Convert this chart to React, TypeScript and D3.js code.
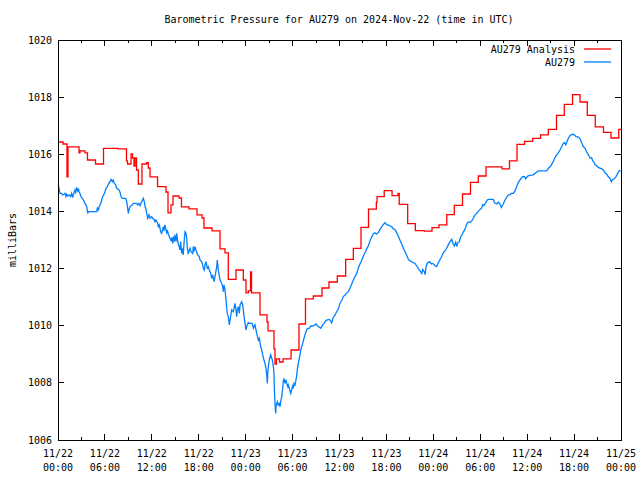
import * as React from 'react'
import * as d3 from 'd3'

const WIDTH = 640
const HEIGHT = 480
const margin = { top: 40, right: 19, bottom: 40, left: 58 }

const title = 'Barometric Pressure for AU279 on 2024-Nov-22 (time in UTC)'
const yLabel = 'milliBars'
const yTicks = [1006, 1008, 1010, 1012, 1014, 1016, 1018, 1020]
const xTickHours = [0, 6, 12, 18, 24, 30, 36, 42, 48, 54, 60, 66, 72]
const xTickDates = ['11/22', '11/22', '11/22', '11/22', '11/23', '11/23', '11/23', '11/23', '11/24', '11/24', '11/24', '11/24', '11/25']
const xTickTimes = ['00:00', '06:00', '12:00', '18:00', '00:00', '06:00', '12:00', '18:00', '00:00', '06:00', '12:00', '18:00', '00:00']

// hours since 11/22 00:00 UTC, pressure in mb (step changes of the analysis)
const analysis: [number, number][] = [
  [0, 1016.43], [0.64, 1016.36], [1.15, 1015.21], [1.28, 1016.26], [2.69, 1016.05], [2.81, 1016.12],
  [3.45, 1016.05], [3.77, 1015.8], [4.8, 1015.66], [5.82, 1016.21], [7.67, 1016.19], [8.76, 1015.77],
  [8.89, 1015.66], [9.34, 1016.01], [9.53, 1015.87], [9.72, 1015.59], [9.85, 1015.87], [10.04, 1015.45],
  [10.27, 1014.96], [10.74, 1015.66], [11.34, 1015.71], [11.55, 1015.52], [11.77, 1015.21], [12.73, 1014.87],
  [13.81, 1014.68], [14.07, 1013.95], [14.45, 1014.23], [14.71, 1014.54], [15.47, 1014.47], [15.79, 1014.16],
  [16.75, 1014.09], [17.78, 1013.88], [18.42, 1013.77], [18.67, 1013.42], [19.7, 1013.32], [20.72, 1012.69],
  [21.36, 1012.55], [21.78, 1011.62], [22.76, 1011.95], [23.7, 1011.6], [24.04, 1011.15], [24.34, 1011.22],
  [24.62, 1011.88], [24.75, 1011.15], [25.83, 1010.38], [26.73, 1010.13], [26.86, 1009.82], [27.62, 1009.19],
  [27.75, 1008.66], [27.94, 1008.84], [28.33, 1008.73], [28.78, 1008.84], [29.8, 1009.15], [30.82, 1010.06],
  [31.65, 1010.94], [32.65, 1011.04], [33.76, 1011.32], [34.66, 1011.53], [35.72, 1011.74], [36.79, 1012.32],
  [37.77, 1012.71], [38.75, 1013.44], [39.71, 1014.08], [40.71, 1014.32], [40.8, 1014.52], [41.72, 1014.73],
  [42.72, 1014.55], [43.48, 1014.63], [43.64, 1014.25], [44.72, 1013.57], [45.7, 1013.33], [46.85, 1013.31],
  [47.83, 1013.43], [48.73, 1013.53], [49.72, 1013.89], [50.68, 1014.21], [51.73, 1014.61], [52.75, 1015.02],
  [53.75, 1015.24], [54.74, 1015.56], [56.78, 1015.49], [57.74, 1015.77], [58.7, 1016.35], [59.66, 1016.45],
  [60.71, 1016.56], [61.71, 1016.68], [62.7, 1016.87], [63.75, 1017.36], [64.75, 1017.75], [65.8, 1018.09],
  [66.76, 1017.83], [67.69, 1017.36], [68.71, 1016.96], [69.76, 1016.77], [70.72, 1016.57], [71.71, 1016.87],
  [72, 1016.87],
]

// station observations
const station: [number, number][] = [
  [0.04, 1014.93], [0.13, 1014.81], [0.26, 1014.63], [0.47, 1014.63], [0.55, 1014.58], [0.81, 1014.6],
  [0.9, 1014.63], [1.02, 1014.52], [1.11, 1014.6], [1.24, 1014.54], [1.41, 1014.58], [1.62, 1014.52],
  [1.75, 1014.63], [1.88, 1014.48], [1.96, 1014.58], [2.08, 1014.67], [2.17, 1014.75], [2.26, 1014.67],
  [2.39, 1014.81], [2.52, 1014.72], [2.6, 1014.81], [2.69, 1014.69], [2.81, 1014.63], [2.94, 1014.52],
  [3.11, 1014.46], [3.24, 1014.4], [3.36, 1014.34], [3.45, 1014.28], [3.67, 1014.17], [3.8, 1013.93],
  [3.88, 1013.99], [4.95, 1013.99], [5.03, 1014.11], [5.15, 1014.05], [5.28, 1014.17], [5.46, 1014.28],
  [5.59, 1014.4], [5.72, 1014.52], [5.88, 1014.6], [6.01, 1014.69], [6.14, 1014.81], [6.31, 1014.87],
  [6.43, 1014.95], [6.65, 1015.04], [6.78, 1015.12], [6.94, 1015.04], [7.07, 1015.1], [7.2, 1014.98],
  [7.38, 1014.93], [7.51, 1014.81], [7.8, 1014.75], [7.93, 1014.67], [8.06, 1014.52], [8.22, 1014.46],
  [8.66, 1014.46], [8.79, 1014.34], [8.91, 1014.11], [8.99, 1013.93], [9.08, 1014.05], [9.21, 1014.17],
  [9.5, 1014.23], [9.63, 1014.28], [10.06, 1014.28], [10.19, 1014.23], [10.36, 1014.28], [10.49, 1014.2],
  [10.61, 1014.28], [10.91, 1014.46], [11.04, 1014.34], [11.13, 1014.17], [11.22, 1014.11], [11.34, 1013.93],
  [11.47, 1013.76], [11.64, 1013.88], [11.77, 1013.76], [11.98, 1013.82], [12.11, 1013.76], [12.28, 1013.72],
  [12.41, 1013.64], [12.53, 1013.7], [12.7, 1013.61], [12.83, 1013.47], [12.96, 1013.53], [13.13, 1013.29],
  [13.26, 1013.23], [13.39, 1013.37], [13.47, 1013.47], [13.56, 1013.33], [13.68, 1013.53], [13.81, 1013.35],
  [13.9, 1013.26], [13.98, 1013.35], [14.11, 1013.21], [14.23, 1013.12], [14.41, 1013.0], [14.54, 1013.06],
  [14.67, 1012.88], [14.75, 1013.12], [14.84, 1012.94], [14.96, 1013.18], [15.09, 1012.94], [15.18, 1013.23],
  [15.26, 1013.06], [15.39, 1012.83], [15.51, 1012.77], [15.6, 1012.65], [15.69, 1012.94], [15.82, 1012.53],
  [15.95, 1012.71], [16.02, 1012.48], [16.11, 1012.88], [16.24, 1013.29], [16.37, 1013.23], [16.46, 1013.06],
  [16.54, 1012.71], [16.66, 1012.51], [16.79, 1012.65], [16.88, 1012.71], [17.01, 1012.59], [17.23, 1012.53],
  [17.3, 1012.77], [17.39, 1012.59], [17.52, 1012.77], [17.74, 1012.56], [17.86, 1012.48], [18.07, 1012.42],
  [18.16, 1012.3], [18.38, 1012.24], [18.51, 1012.13], [18.58, 1012.01], [18.71, 1011.95], [18.8, 1012.13],
  [18.93, 1012.24], [19.09, 1012.01], [19.22, 1012.07], [19.35, 1011.95], [19.53, 1011.83], [19.66, 1011.66],
  [19.78, 1011.78], [19.95, 1011.54], [20.08, 1011.72], [20.3, 1012.07], [20.37, 1012.3], [20.5, 1011.95],
  [20.72, 1011.6], [20.94, 1011.48], [21.06, 1011.37], [21.14, 1011.19], [21.23, 1011.43], [21.36, 1011.25],
  [21.49, 1010.9], [21.58, 1010.61], [21.65, 1010.43], [21.78, 1010.32], [21.91, 1010.03], [22.0, 1010.2],
  [22.21, 1010.55], [22.42, 1010.49], [22.64, 1010.78], [22.76, 1010.55], [22.85, 1010.32], [22.93, 1010.55],
  [23.06, 1010.67], [23.19, 1010.43], [23.28, 1010.73], [23.49, 1010.84], [23.62, 1010.73], [23.7, 1010.55],
  [23.79, 1010.32], [23.92, 1010.08], [24.04, 1009.85], [24.13, 1009.97], [24.34, 1010.11], [24.47, 1010.08],
  [24.85, 1010.08], [24.98, 1009.91], [25.19, 1010.03], [25.41, 1009.73], [25.62, 1009.5], [25.74, 1009.56],
  [25.92, 1009.27], [26.05, 1009.15], [26.18, 1008.98], [26.34, 1008.8], [26.47, 1008.68], [26.6, 1008.51],
  [26.69, 1008.28], [26.77, 1007.98], [26.82, 1008.33], [26.9, 1008.57], [27.02, 1008.8], [27.2, 1008.98],
  [27.41, 1008.8], [27.54, 1008.57], [27.62, 1008.33], [27.66, 1007.87], [27.75, 1007.28], [27.84, 1006.93],
  [27.88, 1007.17], [27.97, 1007.28], [28.04, 1007.34], [28.17, 1007.22], [28.3, 1007.28], [28.39, 1007.17],
  [28.48, 1007.34], [28.61, 1007.52], [28.74, 1007.81], [28.81, 1008.04], [28.9, 1008.16], [29.03, 1007.98],
  [29.16, 1008.1], [29.25, 1007.98], [29.38, 1007.87], [29.45, 1007.93], [29.58, 1007.81], [29.76, 1007.63],
  [29.89, 1007.75], [30.02, 1007.93], [30.09, 1007.81], [30.18, 1007.98], [30.31, 1007.93], [30.44, 1008.1],
  [30.53, 1008.28], [30.6, 1008.45], [30.73, 1008.68], [30.86, 1008.86], [30.95, 1008.98], [31.04, 1009.15],
  [31.17, 1009.27], [31.29, 1009.38], [31.46, 1009.56], [31.59, 1009.68], [31.72, 1009.79], [31.88, 1009.91],
  [32.14, 1009.91], [32.32, 1009.99], [32.57, 1009.99], [32.87, 1010.03], [33.0, 1010.06], [33.29, 1009.97],
  [33.6, 1009.91], [33.85, 1010.03], [34.02, 1010.08], [34.27, 1010.18], [34.57, 1010.22], [34.79, 1010.2],
  [35.0, 1010.1], [35.17, 1010.27], [35.43, 1010.38], [35.64, 1010.49], [35.85, 1010.59], [36.06, 1010.78],
  [36.28, 1010.88], [36.49, 1011.02], [36.7, 1011.08], [37.13, 1011.19], [37.34, 1011.31], [37.56, 1011.46],
  [37.77, 1011.6], [37.98, 1011.72], [38.2, 1011.83], [38.41, 1012.02], [38.62, 1012.16], [38.84, 1012.28],
  [39.04, 1012.44], [39.26, 1012.56], [39.48, 1012.69], [39.68, 1012.79], [39.9, 1012.97], [40.12, 1013.11],
  [40.32, 1013.21], [40.54, 1013.25], [40.76, 1013.21], [40.96, 1013.26], [41.18, 1013.37], [41.4, 1013.47],
  [41.6, 1013.54], [41.82, 1013.61], [42.04, 1013.53], [42.24, 1013.53], [42.46, 1013.49], [42.68, 1013.47],
  [42.88, 1013.39], [43.1, 1013.37], [43.32, 1013.25], [43.52, 1013.13], [43.74, 1012.99], [43.96, 1012.86],
  [44.16, 1012.71], [44.38, 1012.59], [44.6, 1012.46], [44.8, 1012.33], [45.02, 1012.27], [45.24, 1012.24],
  [45.44, 1012.21], [45.66, 1012.18], [45.88, 1012.09], [46.08, 1012.0], [46.3, 1011.93], [46.52, 1011.83],
  [46.64, 1011.97], [46.85, 1011.88], [46.94, 1011.79], [47.06, 1012.04], [47.23, 1012.19], [47.49, 1012.24],
  [47.77, 1012.16], [47.96, 1012.18], [48.22, 1012.09], [48.41, 1012.07], [48.64, 1012.21], [48.85, 1012.31],
  [49.07, 1012.42], [49.28, 1012.55], [49.49, 1012.63], [49.71, 1012.71], [49.91, 1012.83], [50.13, 1012.94],
  [50.35, 1013.02], [50.55, 1012.86], [50.68, 1012.79], [50.86, 1012.92], [50.99, 1012.77], [51.12, 1012.9],
  [51.32, 1012.94], [51.5, 1013.11], [51.71, 1013.21], [51.92, 1013.32], [52.14, 1013.44], [52.27, 1013.56],
  [52.47, 1013.63], [52.69, 1013.61], [52.91, 1013.67], [53.11, 1013.76], [53.33, 1013.88], [53.55, 1013.93],
  [53.75, 1014.0], [53.97, 1014.07], [54.19, 1014.12], [54.32, 1014.24], [54.48, 1014.21], [54.7, 1014.31],
  [54.9, 1014.4], [55.03, 1014.42], [55.67, 1014.42], [55.82, 1014.3], [56.1, 1014.26], [56.31, 1014.33],
  [56.52, 1014.26], [56.69, 1014.14], [56.91, 1014.24], [57.17, 1014.4], [57.38, 1014.49], [57.59, 1014.58],
  [57.81, 1014.59], [58.02, 1014.63], [58.23, 1014.63], [58.45, 1014.72], [58.66, 1014.87], [58.86, 1015.01],
  [59.08, 1015.1], [59.38, 1015.21], [59.64, 1015.22], [59.81, 1015.14], [60.07, 1015.24], [60.36, 1015.26],
  [60.79, 1015.28], [61.22, 1015.38], [61.43, 1015.42], [62.5, 1015.42], [62.71, 1015.51], [62.99, 1015.58],
  [63.34, 1015.75], [63.63, 1015.92], [63.99, 1016.06], [64.2, 1016.15], [64.42, 1016.27], [64.59, 1016.37],
  [64.78, 1016.41], [64.93, 1016.33], [65.06, 1016.41], [65.27, 1016.56], [65.48, 1016.66], [65.8, 1016.7],
  [66.04, 1016.68], [66.25, 1016.62], [66.54, 1016.6], [66.76, 1016.54], [66.95, 1016.41], [67.18, 1016.27],
  [67.4, 1016.21], [67.61, 1016.08], [67.82, 1015.99], [68.04, 1015.87], [68.25, 1015.88], [68.38, 1015.77],
  [68.55, 1015.72], [68.68, 1015.63], [68.89, 1015.6], [69.1, 1015.54], [69.53, 1015.49], [69.74, 1015.45],
  [69.95, 1015.35], [70.17, 1015.3], [70.38, 1015.21], [70.59, 1015.16], [70.76, 1015.04], [70.89, 1015.1],
  [71.17, 1015.15], [71.36, 1015.22], [71.58, 1015.33], [71.75, 1015.42], [71.94, 1015.43],
]

const series = [
  { name: 'AU279 Analysis', color: '#ff0000', data: analysis, curve: d3.curveStepAfter },
  { name: 'AU279', color: '#0080ff', data: station, curve: d3.curveLinear },
]

const FONT = '"DejaVu Sans Mono", "Liberation Mono", monospace'

export default function App() {
  const x0 = margin.left
  const x1 = WIDTH - margin.right
  const y0 = HEIGHT - margin.bottom
  const y1 = margin.top

  const x = d3.scaleLinear().domain([0, 72]).range([x0, x1])
  const y = d3.scaleLinear().domain([1006, 1020]).range([y0, y1])

  const minorHours = d3.range(3, 72, 6)

  return (
    <svg width={WIDTH} height={HEIGHT} style={{ position: 'absolute', left: 0, top: 0, background: '#fff' }}
      fontFamily={FONT} fontSize={10}>
      <rect width={WIDTH} height={HEIGHT} fill="#fff" />
      <text x={339} y={19} dy="0.35em" textAnchor="middle">{title}</text>

      {/* ticks, mirrored on all sides */}
      <g stroke="#000" strokeWidth={1} shapeRendering="crispEdges">
        {xTickHours.map(h => (
          <g key={'xt' + h}>
            <line x1={x(h)} x2={x(h)} y1={y0} y2={y0 - 6} />
            <line x1={x(h)} x2={x(h)} y1={y1} y2={y1 + 6} />
          </g>
        ))}
        {minorHours.map(h => (
          <g key={'xm' + h}>
            <line x1={x(h)} x2={x(h)} y1={y0} y2={y0 - 3} />
            <line x1={x(h)} x2={x(h)} y1={y1} y2={y1 + 3} />
          </g>
        ))}
        {yTicks.map(v => (
          <g key={'yt' + v}>
            <line x1={x0} x2={x0 + 6} y1={y(v)} y2={y(v)} />
            <line x1={x1} x2={x1 - 6} y1={y(v)} y2={y(v)} />
          </g>
        ))}
      </g>

      {yTicks.map(v => (
        <text key={'yl' + v} x={x0 - 6} y={y(v)} dy="0.35em" textAnchor="end">{v}</text>
      ))}
      {xTickHours.map((h, i) => (
        <g key={'xl' + h}>
          <text x={x(h)} y={453} dy="0.35em" textAnchor="middle">{xTickDates[i]}</text>
          <text x={x(h)} y={467} dy="0.35em" textAnchor="middle">{xTickTimes[i]}</text>
        </g>
      ))}
      <text transform={`translate(12,${(y0 + y1) / 2}) rotate(-90)`} dy="0.35em" textAnchor="middle">{yLabel}</text>

      {series.map(s => {
        const line = d3.line<[number, number]>().x(d => x(d[0])).y(d => y(d[1])).curve(s.curve)
        return <path key={s.name} d={line(s.data) ?? ''} fill="none" stroke={s.color} strokeWidth={1.3} />
      })}

      {/* legend */}
      {series.map((s, i) => (
        <g key={'lg' + s.name}>
          <text x={575} y={49 + i * 13} dy="0.35em" textAnchor="end">{s.name}</text>
          <line x1={584} x2={611} y1={49 + i * 13} y2={49 + i * 13} stroke={s.color} strokeWidth={1.3} />
        </g>
      ))}

      <rect x={x0} y={y1} width={x1 - x0} height={y0 - y1} fill="none" stroke="#000" strokeWidth={1} shapeRendering="crispEdges" />
    </svg>
  )
}
